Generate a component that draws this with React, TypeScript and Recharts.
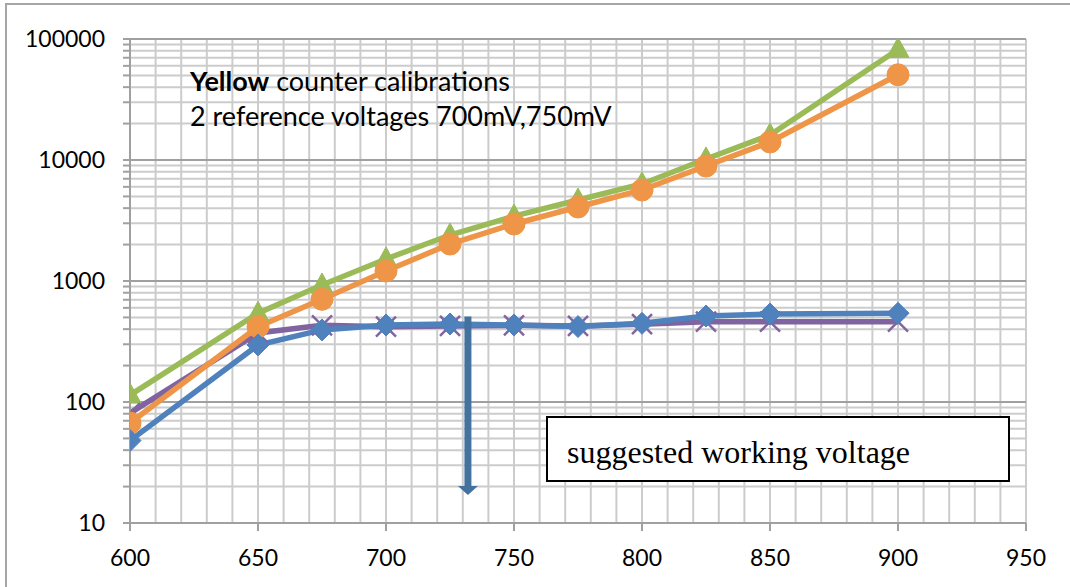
import React from 'react';
import { LineChart, Line, XAxis, YAxis, ReferenceLine } from 'recharts';

const voltages = [600, 650, 675, 700, 725, 750, 775, 800, 825, 850, 900];
const blueCounts = [48, 296, 394, 433, 441, 433, 420, 447, 514, 534, 541];
const purpleCounts = [81, 372, 430, 419, 425, 430, 425, 440, 461, 461, 461];
const orangeCounts = [67, 419, 706, 1210, 2020, 2960, 4090, 5650, 8920, 14100, 50600];
const greenCounts = [114, 541, 927, 1520, 2400, 3440, 4670, 6340, 10200, 16100, 82000];

const xTicks = [600, 650, 700, 750, 800, 850, 900, 950];
const decades = [10, 100, 1000, 10000, 100000];
const arrowX = 732;
const arrowTop = 510;
const arrowTip = 17;

const data = voltages.map((v, i) => ({
  v,
  blue: blueCounts[i],
  purple: purpleCounts[i],
  orange: orangeCounts[i],
  green: greenCounts[i],
}));

const xMinor: number[] = [];
for (let x = 600; x <= 950; x += 10) xMinor.push(x);
const yAll: number[] = [];
decades.forEach((d, i) => {
  if (i === decades.length - 1) { yAll.push(d); return; }
  for (let k = 1; k <= 9; k++) yAll.push(d * k);
});
const yMinor = yAll.filter((y) => !decades.includes(y));

const BLUE = '#4F81BD';
const PURPLE = '#8064A2';
const ORANGE = '#EE9548';
const GREEN = '#9BBB59';
const GRID = '#cccccc';
const MAJOR = '#a0a0a0';
const FONT = 'Lato, "Open Sans", sans-serif';

const Diamond = (p: any) => {
  const { cx, cy, index } = p;
  if (cx == null || cy == null) return <g key={index} />;
  const r = 11;
  return <polygon key={index} points={`${cx},${cy - r} ${cx + r},${cy} ${cx},${cy + r} ${cx - r},${cy}`} fill={BLUE} stroke={BLUE} strokeWidth={1} />;
};
const Circ = (p: any) => {
  const { cx, cy, index } = p;
  if (cx == null || cy == null) return <g key={index} />;
  return <circle key={index} cx={cx} cy={cy} r={11} fill={ORANGE} stroke={ORANGE} />;
};
const Tri = (p: any) => {
  const { cx, cy, index } = p;
  if (cx == null || cy == null) return <g key={index} />;
  return <polygon key={index} points={`${cx},${cy - 12} ${cx + 11},${cy + 8} ${cx - 11},${cy + 8}`} fill={GREEN} stroke={GREEN} />;
};
const Cross = (p: any) => {
  const { cx, cy, index } = p;
  if (cx == null || cy == null) return <g key={index} />;
  const r = 10;
  return (
    <g key={index} stroke={PURPLE} strokeWidth={2.5}>
      <line x1={cx - r} y1={cy - r} x2={cx + r} y2={cy + r} />
      <line x1={cx - r} y1={cy + r} x2={cx + r} y2={cy - r} />
    </g>
  );
};

const ArrowShape = (p: any) => {
  const { x1, y1, x2, y2 } = p;
  if (x1 == null) return <g />;
  const top = Math.min(y1, y2);
  const tip = Math.max(y1, y2);
  const base = tip - 9;
  return (
    <g>
      <line x1={x1} y1={top} x2={x1} y2={base} stroke="#44729F" strokeWidth={7} />
      <polygon points={`${x1 - 10},${base} ${x1 + 10},${base} ${x1},${tip}`} fill="#44729F" />
    </g>
  );
};

const yFmt = (v: number) => (decades.includes(v) ? String(v) : '');

export default function App() {
  return (
    <div style={{ position: 'absolute', left: 0, top: 0, width: 1070, height: 587, background: '#fff', overflow: 'hidden' }}>
      <div style={{ position: 'absolute', left: 5, top: 3, width: 1100, height: 700, borderTop: '2px solid #a6a6a6', borderLeft: '2px solid #a6a6a6' }} />
      <div style={{ position: 'absolute', left: 0, top: 0 }}>
        <LineChart width={1070} height={587} data={data} margin={{ top: 39, right: 44, bottom: 24, left: 0 }}>
          <XAxis
            type="number"
            dataKey="v"
            domain={[600, 950]}
            ticks={xTicks}
            tickSize={8}
            tickMargin={19}
            height={40}
            stroke={MAJOR}
            strokeWidth={2}
            tick={{ fill: '#000', fontSize: 23, fontFamily: FONT }}
            allowDataOverflow
          />
          <YAxis
            scale="log"
            domain={[10, 100000]}
            ticks={yAll}
            tickFormatter={yFmt}
            interval={0}
            width={130}
            tickSize={7}
            tickMargin={18}
            stroke={MAJOR}
            strokeWidth={2}
            tick={{ fill: '#000', fontSize: 23, fontFamily: FONT }}
            allowDataOverflow
          />
          {xMinor.map((x) => (
            <ReferenceLine key={'vx' + x} x={x} stroke={GRID} strokeWidth={2} />
          ))}
          {yMinor.map((y) => (
            <ReferenceLine key={'hy' + y} y={y} stroke={GRID} strokeWidth={2} />
          ))}
          {decades.map((y) => (
            <ReferenceLine key={'dy' + y} y={y} stroke={MAJOR} strokeWidth={2} />
          ))}
          <Line dataKey="green" name="green" stroke={GREEN} strokeWidth={5.5} dot={Tri} isAnimationActive={false} />
          <Line dataKey="purple" name="purple" stroke={PURPLE} strokeWidth={5.5} dot={Cross} isAnimationActive={false} />
          <Line dataKey="orange" name="orange" stroke={ORANGE} strokeWidth={5.5} dot={Circ} isAnimationActive={false} />
          <Line dataKey="blue" name="blue" stroke={BLUE} strokeWidth={5.5} dot={Diamond} isAnimationActive={false} />
          <ReferenceLine
            segment={[{ x: arrowX, y: arrowTop }, { x: arrowX, y: arrowTip }]}
            shape={ArrowShape}
          />
        </LineChart>
      </div>
      <svg width={1070} height={587} style={{ position: 'absolute', left: 0, top: 0, pointerEvents: 'none' }}>
        <text x={190} y={91} fontFamily={FONT} fontSize={27} fill="#000">
          <tspan fontWeight="bold">Yellow</tspan> counter calibrations
        </text>
        <text x={190} y={126} fontFamily={FONT} fontSize={27} fill="#000">
          2 reference voltages 700mV,750mV
        </text>
        <rect x={547} y={417} width={462} height={64} fill="#fff" stroke="#000" strokeWidth={2} />
        <text x={567} y={463} fontFamily='"Liberation Serif", "Times New Roman", serif' fontSize={32} fill="#000">
          suggested working voltage
        </text>
      </svg>
    </div>
  );
}
